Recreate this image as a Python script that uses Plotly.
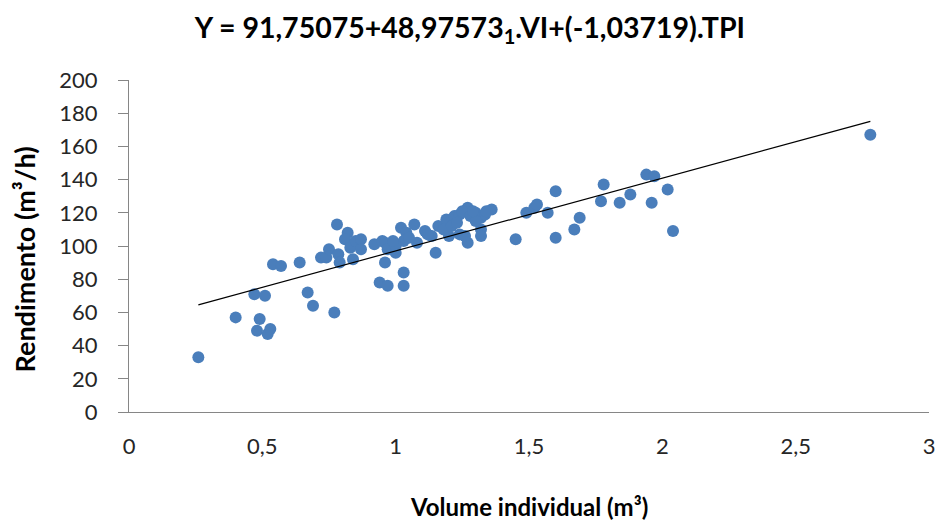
import numpy as np
import plotly.graph_objects as go

vol = [0.26, 0.40, 0.47, 0.51, 0.48, 0.49, 0.52, 0.53, 0.54, 0.57,
       0.64, 0.67, 0.69, 0.77, 0.72, 0.74, 0.75, 0.785, 0.79, 0.78,
       0.82, 0.81, 0.84, 0.83, 0.85, 0.87, 0.87, 0.92, 0.95, 0.96,
       0.97, 1.00, 0.96, 0.94, 0.97, 1.03, 1.03, 1.02, 1.04, 1.07,
       1.08, 1.03, 1.11, 1.135, 1.16, 1.15, 1.19, 1.22, 1.24, 1.27,
       1.25, 1.30, 1.32, 1.335, 1.36, 1.34, 1.20, 1.24, 1.27, 1.26,
       1.32, 1.32, 1.45, 1.49, 1.52, 1.53, 1.57, 1.60, 1.60, 1.67,
       1.69, 1.77, 1.78, 1.84, 1.88, 1.94, 1.97, 1.96, 2.02, 2.04,
       2.78, 1.00, 0.99, 1.05, 1.18, 1.21, 1.23, 1.28, 1.30, 1.12, 1.29]
rend = [33, 57, 71, 70, 49, 56, 47, 50, 89, 88,
        90, 72, 64, 60, 93, 93, 98, 95, 90, 113,
        108, 104, 92, 99, 103, 104, 98, 101, 103, 102,
        98, 96, 90, 78, 76, 76, 84, 111, 108, 113,
        102, 103, 109, 106, 112, 96, 116, 118, 119, 123,
        121, 120, 117, 119, 122, 121, 106, 107, 102, 106,
        110, 106, 104, 120, 123, 125, 120, 133, 105, 110,
        117, 127, 137, 126, 131, 143, 142, 126, 134, 109,
        167, 100, 103, 105, 110, 112, 114, 118, 115, 107, 121]

x_ticks = [0, 0.5, 1, 1.5, 2, 2.5, 3]
y_ticks = [0, 20, 40, 60, 80, 100, 120, 140, 160, 180, 200]

title_text = "Y = 91,75075+48,97573<sub>1</sub>.VI+(-1,03719).TPI"
x_title = "Volume individual (m³)"
y_title = "Rendimento (m³/h)"

# linear trendline over data range
xa = np.array(vol)
ya = np.array(rend)
slope, intercept = np.polyfit(xa, ya, 1)
tx = [xa.min(), xa.max()]
ty = [intercept + slope * v for v in tx]

font = "Lato"
fig = go.Figure()
fig.add_trace(go.Scatter(x=vol, y=rend, mode="markers",
                         marker=dict(size=12, color="#4A7EBB"),
                         showlegend=False, hoverinfo="skip"))
fig.add_trace(go.Scatter(x=tx, y=ty, mode="lines",
                         line=dict(color="black", width=1.2),
                         showlegend=False, hoverinfo="skip"))

fig.update_layout(
    width=936, height=524,
    margin=dict(l=129, r=7, t=80, b=112, autoexpand=False),
    paper_bgcolor="white", plot_bgcolor="white",
    separators=",.",
    font=dict(family=font, color="#000000"),
    title=dict(text="<b>" + title_text + "</b>", x=0.502, xanchor="center",
               y=0.946, yanchor="middle", font=dict(size=28.5, family=font, color="black")),
    annotations=[
        dict(text="<b>" + x_title + "</b>", xref="paper", yref="paper",
             x=0.5, y=-0.285, xanchor="center", yanchor="middle", showarrow=False,
             font=dict(size=24, family=font, color="black")),
        dict(text="<b>" + y_title + "</b>", xref="paper", yref="paper",
             x=-0.131, y=0.46, xanchor="center", yanchor="middle", showarrow=False,
             textangle=-90, font=dict(size=27, family=font, color="black")),
    ],
)
fig.update_xaxes(range=[0, 3], tickvals=x_ticks, showgrid=False, zeroline=False,
                 showline=True, linecolor="#868686", linewidth=1.3,
                 ticks="", ticklabelstandoff=14,
                 tickfont=dict(size=22, family=font, color="#262626"))
fig.update_yaxes(range=[0, 200], tickvals=y_ticks, showgrid=False, zeroline=False,
                 showline=True, linecolor="#868686", linewidth=1.3,
                 ticks="outside", ticklen=10, tickcolor="#868686",
                 ticklabelstandoff=16,
                 tickfont=dict(size=22, family=font, color="#262626"))

fig.write_html("out.html")
